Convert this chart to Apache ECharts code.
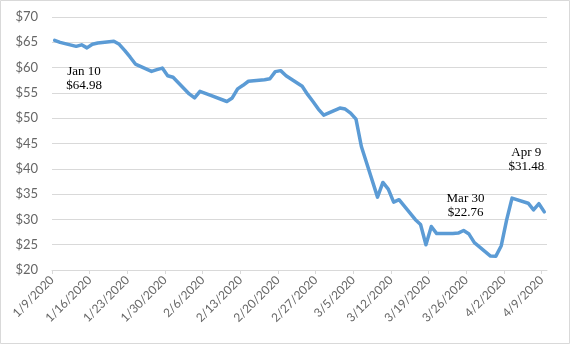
<!DOCTYPE html>
<html>
<head>
<meta charset="utf-8">
<script src="https://cdn.jsdelivr.net/npm/echarts@6/dist/echarts.min.js"></script>
<style>
html,body{margin:0;padding:0;background:#fff;}
#chart{width:571px;height:346px;}
</style>
</head>
<body>
<div id="chart"></div>
<script>
// ---- data ----
var dates = ['1/9','1/10','1/13','1/14','1/15','1/16','1/17','1/20','1/21','1/22','1/23','1/24',
  '1/27','1/28','1/29','1/30','1/31','2/3','2/4','2/5','2/6','2/7','2/10','2/11','2/12','2/13','2/14',
  '2/17','2/18','2/19','2/20','2/21','2/24','2/25','2/26','2/27','2/28','3/2','3/3','3/4','3/5','3/6',
  '3/9','3/10','3/11','3/12','3/13','3/16','3/17','3/18','3/19','3/20','3/23','3/24','3/25','3/26','3/27',
  '3/30','3/31','4/1','4/2','4/3','4/6','4/7','4/8','4/9'];
var prices = [65.37,64.98,64.20,64.50,63.90,64.60,64.85,65.20,64.60,63.40,62.10,60.70,
  59.25,59.60,59.90,58.40,58.10,54.80,54.00,55.30,54.90,54.50,53.30,54.00,55.80,56.50,57.30,
  57.60,57.80,59.20,59.40,58.40,56.30,54.70,53.30,51.80,50.60,52.00,51.80,51.00,49.80,44.40,
  34.40,37.30,36.00,33.40,33.90,30.00,29.00,25.00,28.60,27.20,27.20,27.30,27.80,27.10,25.40,
  22.76,22.74,24.80,29.90,34.20,33.20,31.90,33.10,31.48];
var tickLabels = ['1/9/2020','1/16/2020','1/23/2020','1/30/2020','2/6/2020','2/13/2020','2/20/2020',
  '2/27/2020','3/5/2020','3/12/2020','3/19/2020','3/26/2020','4/2/2020','4/9/2020'];
var yTicks = [20,25,30,35,40,45,50,55,60,65,70];
var notes = [
  {date:'1/10', text:'Jan 10\n$64.98'},
  {date:'3/30', text:'Mar 30\n$22.76'},
  {date:'4/9',  text:'Apr 9\n$31.48'}
];

// ---- build ----
var DAY = 86400000;
var t0 = Date.UTC(2020,0,9);
function dayIndex(md){
  var p = md.split('/');
  return Math.round((Date.UTC(2020, +p[0]-1, +p[1]) - t0)/DAY);
}
var seriesData = dates.map(function(d,i){ return [dayIndex(d)+0.5, prices[i]]; });
var tickVals = tickLabels.map(function(_,i){ return i*7; });
var noteOffsets = [[24,36],[-25,-50],[-18,-52]];
var markData = notes.map(function(n,i){
  var idx = dates.indexOf(n.date);
  return {
    coord: seriesData[idx],
    label: {show:true, formatter:n.text, offset:noteOffsets[i]}
  };
});

var chart = echarts.init(document.getElementById('chart'));
chart.setOption({
  animation:false,
  backgroundColor:'#ffffff',
  grid:{left:52, right:24, top:17, bottom:76},
  graphic:[{type:'rect', shape:{x:0.5,y:0.5,width:569,height:343},
    style:{fill:'none', stroke:'#D9D9D9', lineWidth:1}, silent:true}],
  xAxis:{
    type:'value', min:0, max:92, interval:7,
    axisLine:{show:true, lineStyle:{color:'#D9D9D9', width:1}},
    axisTick:{show:true, length:4, lineStyle:{color:'#D9D9D9'}, customValues:tickVals},
    splitLine:{show:false},
    axisLabel:{
      customValues:tickVals,
      rotate:45, margin:8, color:'#666666', fontSize:12, fontFamily:'Lato',
      formatter:function(v){ var k=Math.round(v/7); return tickLabels[k]||''; }
    }
  },
  yAxis:{
    type:'value', min:yTicks[0], max:yTicks[yTicks.length-1], interval:5,
    axisLine:{show:false}, axisTick:{show:false},
    splitLine:{lineStyle:{color:'#D9D9D9', width:1}},
    axisLabel:{margin:14, color:'#666666', fontSize:13, fontFamily:'Lato',
      formatter:function(v){ return '$'+v; }}
  },
  series:[{
    type:'line', data:seriesData, showSymbol:false, symbol:'none',
    lineStyle:{color:'#5B9BD5', width:3.5, join:'round', cap:'round'},
    markPoint:{
      symbol:'circle', symbolSize:0, silent:true,
      label:{color:'#000', fontSize:13, lineHeight:14, fontFamily:'Liberation Serif', align:'center'},
      data:markData
    }
  }]
});
</script>
</body>
</html>
